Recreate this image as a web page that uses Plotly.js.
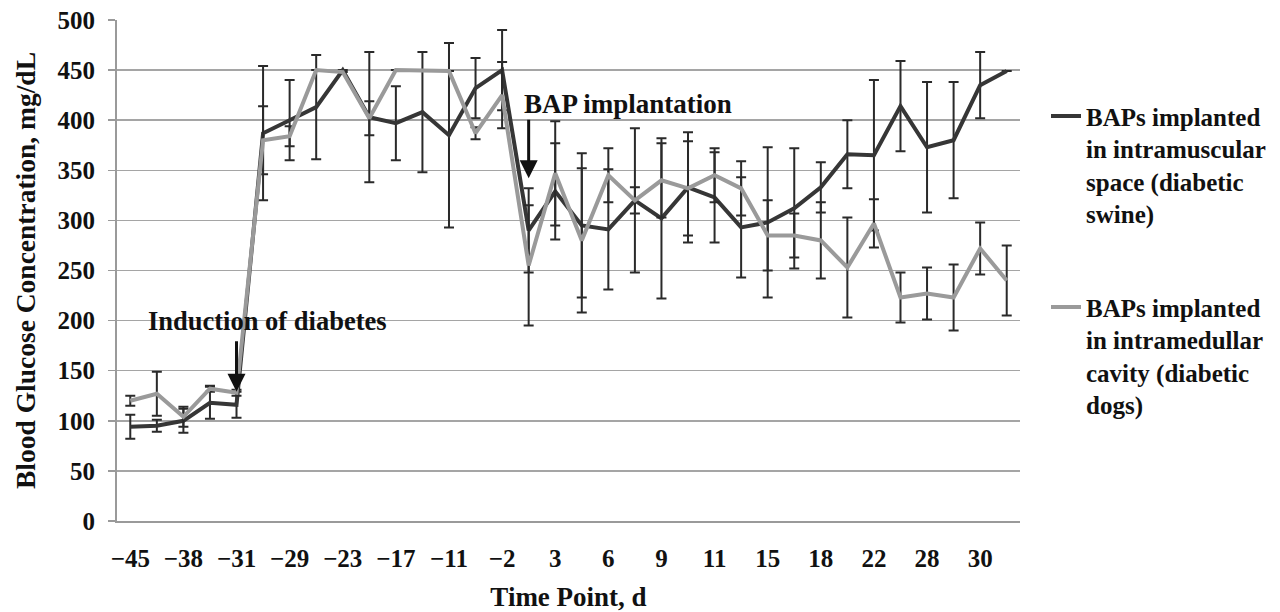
<!DOCTYPE html>
<html><head><meta charset="utf-8">
<script src="https://cdn.plot.ly/plotly-3.0.1.min.js"></script>
<style>html,body{margin:0;padding:0;background:#fff}#chart{width:1280px;height:612px}</style>
</head><body><div id="chart"></div>
<script>
const tickLabels = ["\u221245","\u221238","\u221231","\u221229","\u221223","\u221217","\u221211","\u22122","3","6","9","11","15","18","22","28","30"];
const seriesNames = ["BAPs implanted<br>in intramuscular<br>space (diabetic<br>swine)", "BAPs implanted<br>in intramedullar<br>cavity (diabetic<br>dogs)"];
const swineMean = [94,95,100,118,116,387,400,413,450,403,397,408,385,432,450,290,329,295,291,320,302,333,323,293,298,312,333,366,365,414,373,380,435,449];
const swineErr  = [12,6,12,16,13,67,40,52,0,65,37,60,92,30,40,42,48,72,60,72,80,55,45,50,75,60,25,34,75,45,65,58,33,0];
const dogMean   = [120,127,104,132,128,380,384,450,448,402,450,450,449,387,425,255,347,280,345,320,340,332,345,332,285,285,280,253,297,223,227,223,272,240];
const dogErr    = [5,22,10,3,3,34,10,0,0,17,0,0,0,6,33,60,52,72,27,13,37,47,27,27,35,22,38,50,24,25,26,33,26,35];
const annotationsText = ["BAP implantation", "Induction of diabetes"];

const FONT = "Liberation Serif, 'Times New Roman', serif";
const idx = swineMean.map((_, i) => i);
const tickPos = tickLabels.map((_, i) => 2 * i);
const boundaries = idx.map(i => i - 0.5).concat([idx.length - 0.5]);
const xr = [-0.5, idx.length - 0.5];
const implantIdx = 15, inductionIdx = 4;

const traces = [
  {x: idx, y: swineMean, name: seriesNames[0], type: 'scatter', mode: 'lines', legendgroup: 'a',
   line: {color: '#363636', width: 4},
   error_y: {type: 'data', array: swineErr, visible: true, color: '#2a2a2a', thickness: 2, width: 5}},
  {x: idx, y: dogMean, name: seriesNames[1], type: 'scatter', mode: 'lines', legendgroup: 'b',
   line: {color: '#9a9a9a', width: 4},
   error_y: {type: 'data', array: dogErr, visible: true, color: '#2a2a2a', thickness: 2, width: 5}}
];

const layout = {
  width: 1280, height: 612,
  paper_bgcolor: '#fff', plot_bgcolor: '#fff',
  font: {family: FONT, color: '#111', weight: 'bold'},
  margin: {l: 117, r: 260, t: 20, b: 91, autoexpand: false},
  showlegend: true,
  legend: {x: 1.0288, xanchor: 'left', y: 0.854, yanchor: 'top', valign: 'top',
           font: {size: 25, family: FONT, weight: 'bold', color: '#111'},
           tracegroupgap: 58, traceorder: 'grouped', bgcolor: 'rgba(0,0,0,0)'},
  xaxis: {range: xr, tickmode: 'array', tickvals: tickPos, ticktext: tickLabels, ticks: '',
          showline: true, linecolor: '#9a9a9a', linewidth: 2, showgrid: false, zeroline: false,
          tickfont: {size: 25, family: FONT, weight: 'bold'}, ticklabelstandoff: 14,
          title: {text: 'Time Point, d', font: {size: 27, family: FONT, weight: 'bold'}, standoff: 20}},
  xaxis2: {range: xr, overlaying: 'x', anchor: 'y', tickmode: 'array', tickvals: boundaries,
           ticks: 'outside', ticklen: 7, tickcolor: '#9a9a9a', tickwidth: 1.5,
           showticklabels: false, showgrid: false, showline: false, zeroline: false},
  yaxis: {range: [0, 500], tickmode: 'linear', tick0: 0, dtick: 50,
          showgrid: true, gridcolor: '#a5a5a5', gridwidth: 1.5, zeroline: false,
          showline: true, linecolor: '#9a9a9a', linewidth: 2, ticks: 'outside', ticklen: 7,
          tickcolor: '#9a9a9a', tickwidth: 1.5,
          tickfont: {size: 25, family: FONT, weight: 'bold'}, ticklabelstandoff: 8,
          title: {text: 'Blood Glucose Concentration, mg/dL', font: {size: 27.5, family: FONT, weight: 'bold'}, standoff: 14}},
  annotations: [
    {x: implantIdx, y: 342, xref: 'x', yref: 'y', ax: 0, ay: -60, text: '', showarrow: true,
     arrowhead: 2, arrowsize: 1.2, arrowwidth: 3, arrowcolor: '#111'},
    {x: inductionIdx, y: 129, xref: 'x', yref: 'y', ax: 0, ay: -52, text: '', showarrow: true,
     arrowhead: 2, arrowsize: 1.2, arrowwidth: 3, arrowcolor: '#111'},
    {x: 18.75, y: 416, xref: 'x', yref: 'y', text: annotationsText[0], showarrow: false,
     font: {size: 27, family: FONT, weight: 'bold', color: '#111'}},
    {x: 5.15, y: 200, xref: 'x', yref: 'y', text: annotationsText[1], showarrow: false,
     font: {size: 26.5, family: FONT, weight: 'bold', color: '#111'}}
  ]
};

Plotly.newPlot('chart', traces, layout, {displayModeBar: false, staticPlot: true});
</script></body></html>
